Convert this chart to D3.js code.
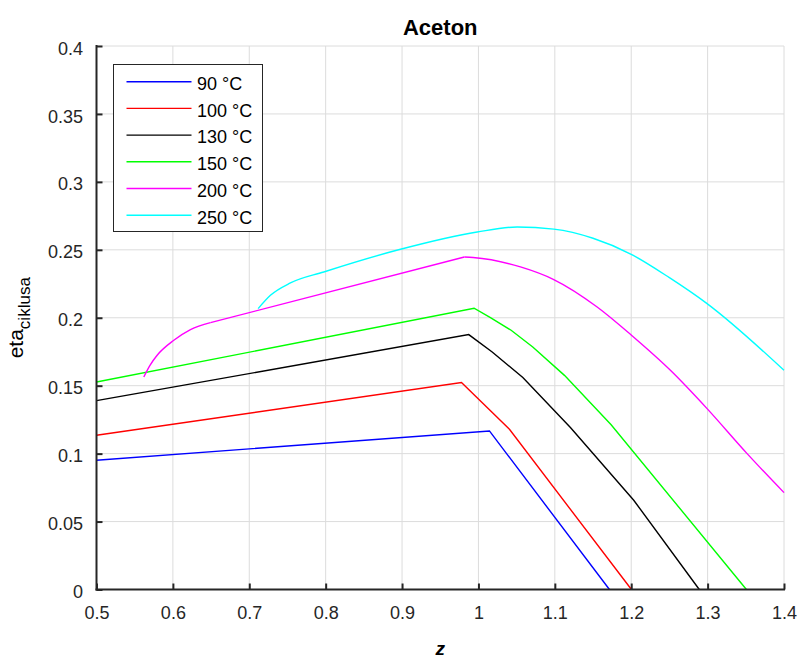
<!DOCTYPE html>
<html><head><meta charset="utf-8">
<script src="https://cdn.jsdelivr.net/npm/d3@7"></script>
<style>body{margin:0;background:#fff}text{font-family:"Liberation Sans",Arial,sans-serif}</style>
</head><body>
<svg id="c" width="798" height="659"></svg>
<script>
const title = "Aceton";
const xTicks = [0.5,0.6,0.7,0.8,0.9,1,1.1,1.2,1.3,1.4];
const yTicks = [0,0.05,0.1,0.15,0.2,0.25,0.3,0.35,0.4];
const seriesNames = ["90 °C","100 °C","130 °C","150 °C","200 °C","250 °C"];
const seriesColors = ["#0000ff","#ff0000","#000000","#00ff00","#ff00ff","#00ffff"];
const s90 = [[0.5,0.0951],[1.0144,0.1167],[1.1715,0]];
const s100 = [[0.5,0.1135],[0.9778,0.1523],[1.0406,0.1179],[1.2003,0]];
const s130 = [[0.5,0.139],[0.9873,0.1876],[1.018,0.1748],[1.0581,0.156],[1.1204,0.1192],[1.2033,0.0657],[1.2891,0]];
const s150 = [[0.5,0.1527],[0.9943,0.207],[1.0157,0.2001],[1.0428,0.1908],[1.0711,0.1785],[1.1126,0.1576],[1.1737,0.1213],[1.3508,0]];
const s200 = [[0.5619,0.1564],[0.5700,0.1650],[0.5794,0.1724],[0.6012,0.1834],[0.623,0.1913],[0.6492,0.1964],[0.9816,0.2447],[0.993,0.2443],[1.055,0.2374],[1.0986,0.2281],[1.1554,0.2079],[1.2003,0.1871],[1.2513,0.1613],[1.2993,0.1331],[1.3517,0.1],[1.4,0.0713]];
const s250 = [[0.7116,0.2067],[0.7277,0.2165],[0.7539,0.2256],[0.7975,0.2337],[0.8967,0.2502],[0.9983,0.2631],[1.0506,0.2668],[1.0986,0.2652],[1.15,0.2585],[1.2,0.2467],[1.25,0.2295],[1.2993,0.2104],[1.4,0.1613]];
const seriesData = [s90,s100,s130,s150,s200,s250];
// index ranges of each series that are smooth curves (others straight segments)
const smoothParts = {4: [[0,5],[6,15]], 5: [[0,12]]};

const svg = d3.select("#c");
const L=96.5, R=784, T=46, B=589.5;
const x = d3.scaleLinear().domain([0.5,1.4]).range([L,R]);
const y = d3.scaleLinear().domain([0,0.4]).range([B,T]);

// grid
const g = svg.append("g");
g.selectAll(".gx").data(xTicks).enter().append("line")
 .attr("x1",d=>x(d)).attr("x2",d=>x(d)).attr("y1",T).attr("y2",B)
 .attr("stroke","#dcdcdc").attr("stroke-width",1);
g.selectAll(".gy").data(yTicks).enter().append("line")
 .attr("x1",L).attr("x2",R).attr("y1",d=>y(d)).attr("y2",d=>y(d))
 .attr("stroke","#dcdcdc").attr("stroke-width",1);

// lines
const line = d3.line().x(d=>x(d[0])).y(d=>y(d[1]));
const smooth = d3.line().x(d=>x(d[0])).y(d=>y(d[1])).curve(d3.curveMonotoneX);
seriesData.forEach((s,i)=>{
  const parts = smoothParts[i];
  if (!parts) {
    svg.append("path").attr("d",line(s)).attr("fill","none")
     .attr("stroke",seriesColors[i]).attr("stroke-width",1.4);
    return;
  }
  let prev = 0;
  parts.forEach(([a,b])=>{
    if (a>prev) svg.append("path").attr("d",line(s.slice(prev,a+1))).attr("fill","none")
      .attr("stroke",seriesColors[i]).attr("stroke-width",1.4);
    svg.append("path").attr("d",smooth(s.slice(a,b+1))).attr("fill","none")
      .attr("stroke",seriesColors[i]).attr("stroke-width",1.4);
    prev = b;
  });
  if (prev < s.length-1) svg.append("path").attr("d",line(s.slice(prev))).attr("fill","none")
      .attr("stroke",seriesColors[i]).attr("stroke-width",1.4);
});

// axes
const fmt = d=>d3.format("~g")(d);
const xAxis = d3.axisBottom(x).tickValues(xTicks).tickSize(-6).tickPadding(12).tickFormat(fmt);
const yAxis = d3.axisLeft(y).tickValues(yTicks).tickSize(-6).tickPadding(13.5).tickFormat(fmt);
const gx = svg.append("g").attr("transform",`translate(0,${B})`).call(xAxis);
const gy = svg.append("g").attr("transform",`translate(${L},0)`).call(yAxis);
[gx,gy].forEach(a=>{
  a.select(".domain").attr("stroke","#262626").attr("stroke-width",2).attr("d",
    a===gx?`M${L-1},0H${R+1}`:`M0,${B+1}V${T-1}`);
  a.selectAll(".tick line").attr("stroke","#262626").attr("stroke-width",2);
  a.selectAll(".tick text").attr("fill","#262626").attr("font-size",18)
   .attr("font-family","Liberation Sans, Arial, sans-serif");
});
gx.selectAll(".tick text").attr("y",29.5).attr("dy",0);
gy.selectAll(".tick text").attr("dy","0.45em");

// title
svg.append("text").attr("x",(L+R)/2).attr("y",35).attr("text-anchor","middle")
 .attr("font-size",22).attr("font-weight","bold").attr("fill","#000").text(title);
// x label
svg.append("text").attr("x",(L+R)/2).attr("y",655).attr("text-anchor","middle")
 .attr("font-size",19).attr("font-weight","bold").attr("font-style","italic").attr("fill","#000").text("z");
// y label
const yl = svg.append("text").attr("transform",`translate(23,${(T+B)/2}) rotate(-90)`)
 .attr("text-anchor","middle").attr("font-size",21).attr("fill","#000");
yl.append("tspan").text("eta");
yl.append("tspan").attr("font-size",17).attr("dy",7).text("ciklusa");

// legend
const lg = svg.append("g");
lg.append("rect").attr("x",113.5).attr("y",64.5).attr("width",149).attr("height",167)
 .attr("fill","#fff").attr("stroke","#262626").attr("stroke-width",1);
seriesNames.forEach((n,i)=>{
  const yy = 81.7 + i*26.7;
  lg.append("line").attr("x1",126.5).attr("x2",191.5).attr("y1",yy).attr("y2",yy)
   .attr("stroke",seriesColors[i]).attr("stroke-width",1.4);
  lg.append("text").attr("x",197).attr("y",yy+8.3).attr("font-size",18).attr("fill","#000").text(n);
});
</script>
</body></html>
